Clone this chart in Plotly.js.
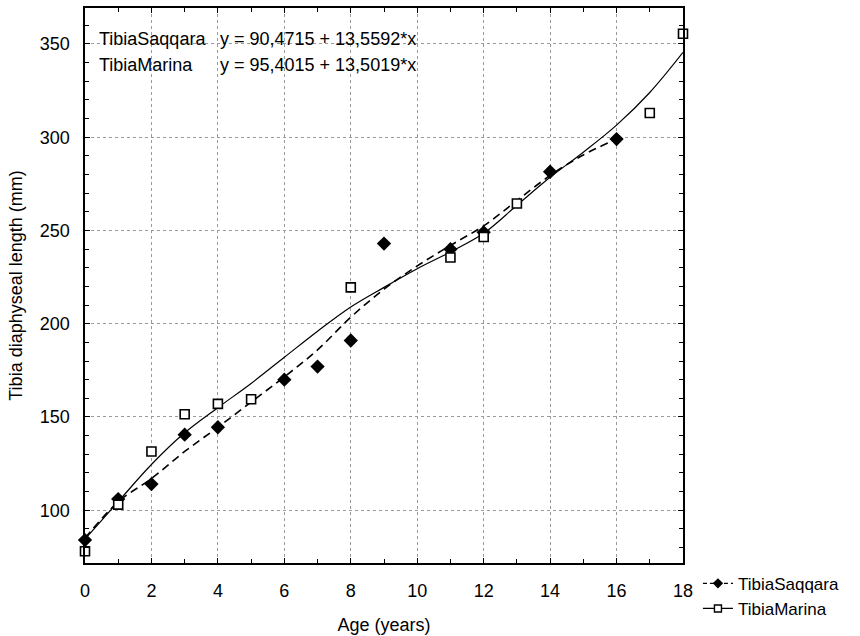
<!DOCTYPE html>
<html>
<head>
<meta charset="utf-8">
<script src="https://cdn.plot.ly/plotly-3.0.1.min.js"></script>
<style>html,body{margin:0;padding:0;background:#fff;}#chart{width:860px;height:636px;}</style>
</head>
<body>
<div id="chart"></div>
<script>
// Observed data points
const saqqaraAge = [0, 1, 2, 3, 4, 6, 7, 8, 9, 11, 12, 14, 16];
const saqqaraLen = [84, 106, 114, 140.5, 144.5, 170, 177, 191, 243, 240, 249, 281.5, 299];
const marinaAge = [0, 1, 2, 3, 4, 5, 8, 11, 12, 13, 17, 18];
const marinaLen = [78, 103, 131.5, 151.5, 157, 159.5, 219.5, 235.5, 246.5, 264.5, 313, 355.5];

// Fitted smooth curves
const saqqaraCurveAge = [0, 1, 2, 3, 4, 5, 6, 7, 8, 9, 10, 11, 12, 13, 14, 15, 16];
const saqqaraCurveLen = [85, 104.5, 117, 131.5, 144.5, 158, 171.5, 186, 203.5, 218.5, 231, 242, 252.5, 266, 279.5, 290.5, 299];
const marinaCurveAge = [0, 1, 2, 3, 4, 5, 6, 7, 8, 9, 10, 11, 12, 13, 14, 15, 16, 17, 18];
const marinaCurveLen = [84.5, 104.6, 124.5, 141.5, 155, 168, 182, 196, 209, 219.5, 229.5, 238.5, 248.5, 263.5, 278.5, 292, 306.5, 324, 345.5];

const names = ["TibiaSaqqara", "TibiaMarina"];
const equations = ["y = 90,4715 + 13,5592*x", "y = 95,4015 + 13,5019*x"];

const FONT = "Liberation Sans, Arial, sans-serif";
const saqMarker = {symbol: "diamond", size: 11, color: "#000"};
const marMarker = {symbol: "square", size: 9, color: "#fff", line: {width: 1.6, color: "#000"}};
const saqLine = {color: "#000", width: 1.6, dash: "8px,5px", shape: "spline", smoothing: 1};
const marLine = {color: "#000", width: 1.2, shape: "spline", smoothing: 1};

const traces = [
  {x: saqqaraCurveAge, y: saqqaraCurveLen, mode: "lines", line: saqLine, showlegend: false, hoverinfo: "skip"},
  {x: marinaCurveAge, y: marinaCurveLen, mode: "lines", line: marLine, showlegend: false, hoverinfo: "skip"},
  {x: saqqaraAge, y: saqqaraLen, mode: "markers", marker: saqMarker, showlegend: false, cliponaxis: false},
  {x: marinaAge, y: marinaLen, mode: "markers", marker: marMarker, showlegend: false, cliponaxis: false},
  {x: [null], y: [null], mode: "lines+markers", name: names[0], line: {color: "#000", width: 1.4, dash: "4px,3px"}, marker: {symbol: "diamond", size: 8, color: "#000"}},
  {x: [null], y: [null], mode: "lines+markers", name: names[1], line: {color: "#000", width: 1.2}, marker: {symbol: "square", size: 7, color: "#fff", line: {width: 1.4, color: "#000"}}}
];

const gridStyle = {showgrid: true, gridcolor: "#9a9a9a", griddash: "dot", gridwidth: 1};

const layout = {
  width: 860, height: 636,
  margin: {l: 85, r: 177, t: 8, b: 73},
  paper_bgcolor: "#fff", plot_bgcolor: "#fff",
  font: {family: FONT, size: 18, color: "#000"},
  showlegend: true,
  legend: {x: 1.025, xanchor: "left", y: -0.005, yanchor: "top", font: {family: FONT, size: 17, color: "#000"},
           bgcolor: "rgba(0,0,0,0)", itemwidth: 30, tracegroupgap: 0},
  xaxis: Object.assign({
    range: [0, 18], dtick: 2, tick0: 0, ticks: "inside", ticklen: 5, tickwidth: 1, tickcolor: "#000",
    showline: true, linecolor: "#000", linewidth: 1.6, mirror: "ticks", zeroline: false,
    minor: {dtick: 1, ticks: "inside", ticklen: 4, tickcolor: "#000", showgrid: false},
    ticklabelstandoff: 11,
    tickfont: {family: FONT, size: 18, color: "#000"},
    title: {text: "Age (years)", font: {family: FONT, size: 18, color: "#000"}, standoff: 18}
  }, gridStyle),
  yaxis: Object.assign({
    range: [71.7, 369.3], dtick: 50, tick0: 0, ticks: "inside", ticklen: 5, tickwidth: 1, tickcolor: "#000",
    showline: true, linecolor: "#000", linewidth: 1.6, mirror: "ticks", zeroline: false,
    minor: {dtick: 10, ticks: "inside", ticklen: 4, tickcolor: "#000", showgrid: false},
    ticklabelstandoff: 10,
    tickfont: {family: FONT, size: 18, color: "#000"},
    title: {text: "Tibia diaphyseal length (mm)", font: {family: FONT, size: 18, color: "#000"}, standoff: 12}
  }, gridStyle),
  annotations: [
    {xref: "paper", yref: "paper", x: 0.02, y: (563 - 39) / 555, xanchor: "left", yanchor: "middle", text: names[0], showarrow: false, font: {family: FONT, size: 18, color: "#000"}},
    {xref: "paper", yref: "paper", x: 0.02, y: (563 - 65) / 555, xanchor: "left", yanchor: "middle", text: names[1], showarrow: false, font: {family: FONT, size: 18, color: "#000"}},
    {xref: "paper", yref: "paper", x: (218 - 85) / 598, y: (563 - 39) / 555, xanchor: "left", yanchor: "middle", text: equations[0], showarrow: false, font: {family: FONT, size: 18, color: "#000"}},
    {xref: "paper", yref: "paper", x: (218 - 85) / 598, y: (563 - 65) / 555, xanchor: "left", yanchor: "middle", text: equations[1], showarrow: false, font: {family: FONT, size: 18, color: "#000"}}
  ]
};

Plotly.newPlot("chart", traces, layout, {displayModeBar: false, staticPlot: true});
</script>
</body>
</html>
